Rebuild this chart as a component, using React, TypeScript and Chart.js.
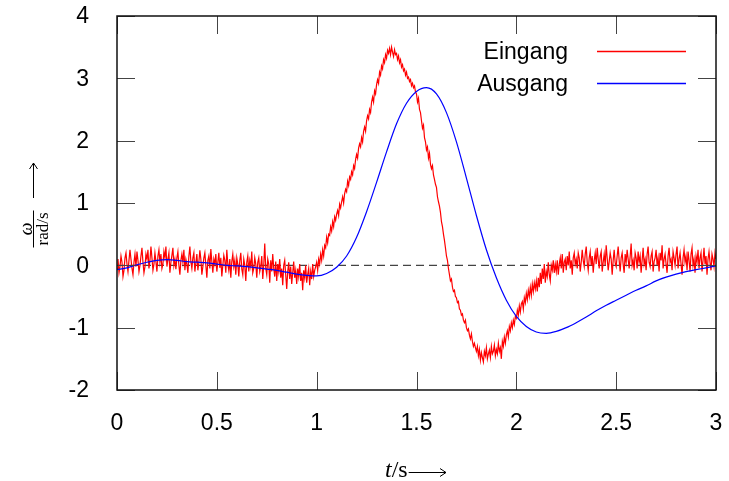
import React, { useEffect, useRef } from "react";
import { Chart, registerables } from "chart.js";

Chart.register(...registerables);

// x tick values / labels
const xTickValues = [0, 0.5, 1, 1.5, 2, 2.5, 3];
const xTickLabels = ["0", "0.5", "1", "1.5", "2", "2.5", "3"];
const yTickValues = [-2, -1, 0, 1, 2, 3, 4];
const yTickLabels = ["-2", "-1", "0", "1", "2", "3", "4"];

const seriesNames = ["Eingang", "Ausgang"];

// Eingang (input), sampled every 0.005 s from 0 to 3 s (20 samples per row = 0.1 s)
const eingang = [
  -0.05, 0.1, -0.12, -0.02, 0.15, 0.05, -0.18, -0.08, 0.12, 0.2, 0.02, -0.1, 0.08, 0.25, 0.1, -0.05, -0.15, 0.05, 0.18, -0.02,
  0.22, 0.08, -0.1, 0.0, 0.15, 0.28, 0.05, -0.12, -0.02, 0.18, 0.1, 0.25, -0.05, 0.08, 0.3, 0.12, -0.08, 0.02, 0.2, 0.06,
  -0.1, 0.15, 0.25, 0.05, 0.18, -0.05, 0.02, 0.22, 0.12, 0.3, -0.02, 0.1, 0.2, -0.12, 0.05, 0.16, 0.28, 0.0, 0.1, -0.06,
  0.12, 0.22, 0.0, -0.15, 0.08, 0.18, 0.05, 0.25, -0.08, 0.1, 0.02, -0.12, 0.15, 0.3, 0.06, -0.05, 0.12, 0.2, -0.1, 0.04,
  0.18, -0.08, 0.05, 0.24, 0.1, -0.15, -0.02, 0.12, 0.2, 0.0, -0.2, 0.08, 0.15, -0.05, 0.26, 0.06, -0.12, 0.1, 0.02, 0.18,
  -0.1, 0.05, 0.2, -0.04, 0.12, -0.18, 0.0, 0.16, 0.08, -0.12, 0.25, 0.02, -0.08, 0.1, -0.2, 0.06, 0.18, -0.02, 0.08, -0.15,
  0.12, 0.02, -0.18, 0.08, 0.2, -0.06, -0.15, 0.1, 0.0, -0.25, 0.05, 0.15, -0.1, 0.08, -0.02, 0.22, -0.12, -0.05, 0.12, 0.02,
  -0.2, 0.05, 0.12, -0.1, -0.02, 0.15, -0.22, 0.0, 0.35, -0.05, -0.15, 0.1, 0.02, -0.28, 0.08, -0.1, 0.18, -0.05, -0.18, 0.06,
  -0.25, 0.02, -0.1, 0.1, -0.2, -0.05, -0.32, 0.0, 0.08, -0.15, -0.38, -0.1, 0.05, -0.22, -0.02, -0.3, -0.12, 0.06, -0.2, -0.08,
  -0.3, -0.05, -0.18, 0.02, -0.25, -0.12, -0.4, -0.08, -0.2, 0.0, -0.28, -0.15, -0.05, -0.32, -0.1, -0.22, 0.02, -0.18, -0.08, -0.02,
  0.05, -0.08, 0.1, 0.02, 0.18, 0.08, 0.25, 0.15, 0.32, 0.28, 0.45, 0.36, 0.5, 0.48, 0.62, 0.55, 0.7, 0.62, 0.78, 0.72,
  0.82, 0.88, 0.8, 0.98, 0.92, 1.02, 1.1, 1.0, 1.15, 1.22, 1.18, 1.35, 1.28, 1.42, 1.38, 1.5, 1.45, 1.6, 1.55, 1.7,
  1.78, 1.72, 1.88, 1.95, 1.9, 2.05, 1.98, 2.15, 2.22, 2.15, 2.32, 2.4, 2.35, 2.5, 2.45, 2.62, 2.7, 2.62, 2.8, 2.75,
  2.9, 2.98, 2.92, 3.1, 3.05, 3.2, 3.15, 3.3, 3.25, 3.38, 3.32, 3.45, 3.4, 3.48, 3.38, 3.5, 3.42, 3.35, 3.46, 3.38,
  3.4, 3.3, 3.36, 3.25, 3.3, 3.18, 3.22, 3.12, 3.15, 3.05, 3.1, 3.0, 3.02, 2.95, 2.98, 2.88, 2.92, 2.85, 2.88, 2.78,
  2.75, 2.62, 2.68, 2.5, 2.45, 2.32, 2.2, 2.25, 2.05, 1.98, 1.85, 1.9, 1.72, 1.8, 1.62, 1.55, 1.6, 1.45, 1.38, 1.3,
  1.25, 1.1, 1.02, 0.95, 0.85, 0.7, 0.62, 0.5, 0.4, 0.28, 0.15, 0.08, -0.05, -0.15, -0.25, -0.22, -0.35, -0.42, -0.4, -0.5,
  -0.52, -0.6, -0.58, -0.7, -0.72, -0.8, -0.78, -0.88, -0.92, -0.88, -1.0, -1.05, -1.02, -1.12, -1.18, -1.1, -1.22, -1.3, -1.25, -1.32,
  -1.38, -1.3, -1.45, -1.35, -1.52, -1.4, -1.48, -1.55, -1.38, -1.45, -1.32, -1.5, -1.42, -1.36, -1.48, -1.3, -1.42, -1.38, -1.28, -1.45,
  -1.35, -1.42, -1.25, -1.38, -1.32, -1.5, -1.22, -1.3, -1.15, -1.25, -1.12, -1.05, -1.15, -0.98, -1.05, -0.92, -1.0, -0.88, -0.95, -0.82,
  -0.85, -0.72, -0.8, -0.65, -0.75, -0.62, -0.58, -0.7, -0.52, -0.6, -0.45, -0.55, -0.4, -0.5, -0.35, -0.48, -0.3, -0.42, -0.28, -0.38,
  -0.25, -0.42, -0.2, -0.35, -0.12, -0.3, -0.05, -0.22, 0.02, -0.28, -0.1, -0.18, 0.05, -0.15, -0.25, 0.0, -0.08, 0.08, -0.12, 0.02,
  -0.1, 0.08, -0.15, 0.02, 0.12, -0.05, 0.18, -0.12, 0.05, 0.1, -0.08, 0.15, 0.0, 0.22, -0.05, 0.08, -0.15, 0.12, 0.2, 0.02,
  0.1, -0.05, 0.2, 0.12, -0.1, 0.05, 0.25, 0.08, -0.02, 0.18, 0.3, 0.05, -0.08, 0.12, 0.22, 0.0, 0.15, -0.12, 0.08, 0.2,
  0.02, 0.28, 0.1, -0.05, 0.15, 0.22, -0.1, 0.05, 0.18, 0.0, 0.32, 0.12, -0.08, 0.06, 0.2, 0.1, -0.15, 0.08, 0.25, 0.04,
  -0.02, 0.15, 0.3, 0.08, -0.1, 0.12, 0.2, 0.02, -0.12, 0.18, 0.05, 0.25, 0.1, -0.05, 0.14, 0.35, 0.0, 0.08, -0.08, 0.2,
  0.12, -0.05, 0.22, 0.05, 0.15, -0.12, 0.08, 0.28, 0.02, 0.1, -0.08, 0.18, 0.3, 0.05, -0.02, 0.15, 0.22, -0.1, 0.06, 0.12,
  0.25, 0.0, 0.12, -0.1, 0.2, 0.08, 0.32, -0.05, 0.1, 0.18, 0.02, -0.12, 0.15, 0.28, 0.05, 0.1, -0.08, 0.22, 0.12, 0.0,
  0.18, 0.3, -0.05, 0.1, 0.2, 0.02, -0.15, 0.12, 0.25, 0.05, 0.15, -0.08, 0.22, 0.08, -0.1, 0.18, 0.28, 0.0, 0.1, -0.12,
  0.15, 0.05, 0.25, -0.05, 0.12, 0.2, -0.1, 0.08, 0.28, 0.02, 0.15, -0.15, 0.1, 0.22, 0.05, -0.08, 0.18, 0.1, -0.02, 0.2,
  0.1,
];
const eingangStep = 0.005;

// Ausgang (output), sampled every 0.05 s from 0 to 3 s
const ausgang = [
  -0.07, -0.04, 0.01, 0.05, 0.08, 0.09, 0.08, 0.06, 0.05, 0.04,
  0.02, 0.0, -0.01, -0.02, -0.04, -0.06, -0.08, -0.11, -0.14, -0.16,
  -0.17, -0.13, -0.03, 0.15, 0.45, 0.86, 1.33, 1.82, 2.27, 2.6,
  2.79, 2.85, 2.75, 2.45, 1.98, 1.4, 0.8, 0.25, -0.2, -0.56,
  -0.82, -0.98, -1.07, -1.09, -1.06, -1.0, -0.92, -0.83, -0.73, -0.64,
  -0.56, -0.48, -0.4, -0.33, -0.25, -0.19, -0.14, -0.1, -0.07, -0.04,
  -0.01,
];
const ausgangStep = 0.05;

const zeroLine = [0, 0];
const zeroLineT = [0, 3];

const SANS = "'Liberation Sans', Arial, Helvetica, sans-serif";
const SERIF = "'Liberation Serif', 'Times New Roman', serif";

const framePlugin = {
  id: "gnuplotFrame",
  afterDatasetsDraw(chart: any) {
    const { ctx, chartArea } = chart;
    const xs = chart.scales.x;
    const ys = chart.scales.y;
    const { left, right, top, bottom } = chartArea;
    ctx.save();
    ctx.strokeStyle = "#444";
    ctx.lineWidth = 1;
    const tl = 18;
    ctx.beginPath();
    xTickValues.forEach((v) => {
      const px = Math.round(xs.getPixelForValue(v)) + 0.5;
      ctx.moveTo(px, bottom);
      ctx.lineTo(px, bottom - tl);
      ctx.moveTo(px, top);
      ctx.lineTo(px, top + tl);
    });
    yTickValues.forEach((v) => {
      const py = Math.round(ys.getPixelForValue(v)) + 0.5;
      ctx.moveTo(left, py);
      ctx.lineTo(left + tl, py);
      ctx.moveTo(right, py);
      ctx.lineTo(right - tl, py);
    });
    ctx.stroke();
    ctx.strokeStyle = "#111";
    ctx.lineWidth = 1.5;
    ctx.strokeRect(left, top, right - left, bottom - top);

    // tick labels
    ctx.fillStyle = "#000";
    ctx.font = `23px ${SANS}`;
    ctx.textAlign = "center";
    ctx.textBaseline = "middle";
    xTickValues.forEach((v, i) => {
      ctx.fillText(xTickLabels[i], xs.getPixelForValue(v), 424);
    });
    ctx.textAlign = "right";
    yTickValues.forEach((v, i) => {
      ctx.fillText(yTickLabels[i], 89, ys.getPixelForValue(v) + 1);
    });
    ctx.restore();
  },
  afterDraw(chart: any) {
    const { ctx } = chart;
    ctx.save();
    // legend
    ctx.font = `23px ${SANS}`;
    ctx.fillStyle = "#000";
    ctx.textAlign = "right";
    ctx.textBaseline = "middle";
    const colors = ["#ff0000", "#0000ff"];
    const rowsY = [52, 84];
    seriesNames.forEach((name, i) => {
      ctx.fillText(name, 568, rowsY[i] + 1);
      ctx.strokeStyle = colors[i];
      ctx.lineWidth = 1.3;
      ctx.beginPath();
      ctx.moveTo(597, rowsY[i] - 0.5);
      ctx.lineTo(686, rowsY[i] - 0.5);
      ctx.stroke();
    });

    // x title: t/s ->
    ctx.textAlign = "left";
    ctx.textBaseline = "alphabetic";
    ctx.font = `italic 24px ${SERIF}`;
    let x = 385;
    const by = 477;
    ctx.fillText("t", x, by);
    x += ctx.measureText("t").width;
    ctx.font = `24px ${SERIF}`;
    ctx.fillText("/s", x, by);
    x += ctx.measureText("/s").width + 1;
    ctx.strokeStyle = "#000";
    ctx.lineWidth = 1;
    ctx.beginPath();
    ctx.moveTo(x, 472.5);
    ctx.lineTo(446, 472.5);
    ctx.moveTo(446, 472.5);
    ctx.lineTo(440, 468.5);
    ctx.moveTo(446, 472.5);
    ctx.lineTo(440, 476.5);
    ctx.stroke();

    // y title: omega / (rad/s) ->
    ctx.translate(33.5, 229);
    ctx.rotate(-Math.PI / 2);
    ctx.textAlign = "center";
    ctx.font = `italic 18px ${SERIF}`;
    ctx.textBaseline = "alphabetic";
    ctx.fillText("ω", 0, -2);
    ctx.font = `17px ${SERIF}`;
    ctx.textBaseline = "top";
    ctx.fillText("rad/s", 0, 2);
    ctx.beginPath();
    ctx.moveTo(-18.5, 0);
    ctx.lineTo(18.5, 0);
    ctx.moveTo(31, 0);
    ctx.lineTo(66, 0);
    ctx.moveTo(66, 0);
    ctx.lineTo(60, -4);
    ctx.moveTo(66, 0);
    ctx.lineTo(60, 4);
    ctx.stroke();
    ctx.restore();
  },
};

export default function App() {
  const ref = useRef<HTMLCanvasElement>(null);
  useEffect(() => {
    if (!ref.current) return;
    const chart = new Chart(ref.current, {
      type: "line",
      data: {
        datasets: [
          {
            label: seriesNames[1],
            data: ausgang.map((v, i) => ({ x: i * ausgangStep, y: v })),
            borderColor: "#0000ff",
            borderWidth: 1.2,
            pointRadius: 0,
            cubicInterpolationMode: "monotone",
            fill: false,
            order: 0,
          },
          {
            label: seriesNames[0],
            data: eingang.map((v, i) => ({ x: i * eingangStep, y: v })),
            borderColor: "#ff0000",
            borderWidth: 1.2,
            pointRadius: 0,
            tension: 0,
            fill: false,
            order: 1,
          },
          {
            label: "0",
            data: zeroLine.map((v, i) => ({ x: zeroLineT[i], y: v })),
            borderColor: "#444",
            borderWidth: 1.3,
            borderDash: [8, 5],
            pointRadius: 0,
            fill: false,
            order: 2,
          },
        ],
      },
      options: {
        animation: false,
        responsive: false,
        maintainAspectRatio: false,
        layout: { autoPadding: false, padding: { top: 16, right: 13, left: 0, bottom: 0 } },
        plugins: {
          legend: { display: false },
          tooltip: { enabled: false },
          title: { display: false },
        },
        scales: {
          x: {
            type: "linear",
            min: 0,
            max: 3,
            afterBuildTicks: (s: any) => {
              s.ticks = xTickValues.map((v) => ({ value: v }));
            },
            afterFit: (s: any) => {
              s.height = 91;
            },
            grid: { display: false, drawTicks: false },
            border: { display: false },
            ticks: { display: false },
          },
          y: {
            type: "linear",
            min: -2,
            max: 4,
            afterBuildTicks: (s: any) => {
              s.ticks = yTickValues.map((v) => ({ value: v }));
            },
            afterFit: (s: any) => {
              s.width = 117;
            },
            grid: { display: false, drawTicks: false },
            border: { display: false },
            ticks: { display: false },
          },
        },
      },
      plugins: [framePlugin],
    });
    return () => chart.destroy();
  }, []);
  return (
    <div style={{ position: "absolute", left: 0, top: 0, width: 729, height: 481, background: "#fff" }}>
      <canvas ref={ref} width={729} height={481} style={{ display: "block" }} />
    </div>
  );
}
